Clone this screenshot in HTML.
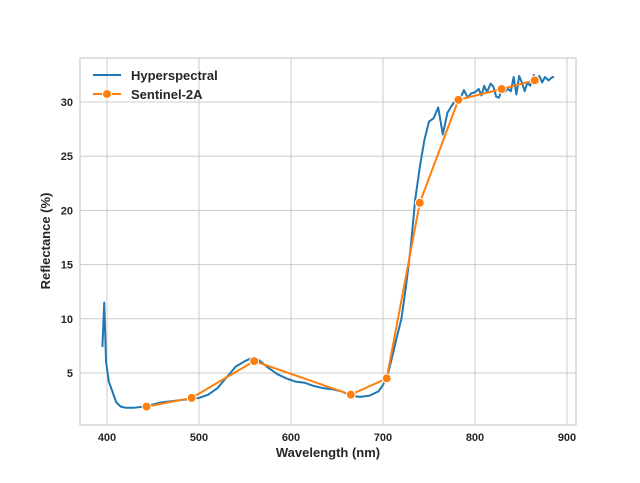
<!DOCTYPE html>
<html><head><meta charset="utf-8"><style>
body{margin:0;background:#fff;}
svg text{font-family:"Liberation Sans","DejaVu Sans",sans-serif;font-weight:bold;fill:#262626;}
</style></head><body>
<svg id="chart" width="640" height="478" viewBox="0 0 640 478"></svg>
<script>
const hyperWl=[395,397,399,402,405,410,415,420,430,440,450,460,470,480,490,500,510,520,530,540,550,558,565,575,585,595,605,615,625,635,645,655,665,675,685,695,700,705,710,715,720,725,730,735,740,745,750,755,760,765,770,775,780,785,788,792,796,800,804,807,810,813,817,820,823,826,829,832,836,839,842,845,848,851,854,857,860,864,867,870,873,876,880,884,886];
const hyperVal=[7.4,11.5,6,4.2,3.5,2.3,1.9,1.8,1.8,1.9,2.1,2.3,2.4,2.5,2.6,2.7,3.0,3.6,4.6,5.6,6.1,6.4,6.2,5.5,4.9,4.5,4.2,4.1,3.8,3.6,3.5,3.3,2.9,2.8,2.9,3.3,3.9,4.8,6.5,8.3,10,13,16.5,21,24,26.5,28.2,28.5,29.5,27,29,29.7,30.3,30.5,31.1,30.4,30.8,30.9,31.2,30.6,31.5,30.9,31.7,31.4,30.5,30.4,31.1,30.9,31.2,31.0,32.3,30.7,32.4,31.8,31.0,31.8,31.5,32.5,31.7,32.4,31.8,32.3,32.0,32.3,32.3];
const s2Wl=[443,492,560,665,704,740,782,829,865];
const s2Val=[1.9,2.7,6.1,3.0,4.5,20.7,30.2,31.2,32.0];
const xTicks=[400,500,600,700,800,900];
const yTicks=[5,10,15,20,25,30];
const X0=80,X1=576,Y0=58,Y1=425;
const xs=v=>107+(v-400)*0.92;
const ys=v=>373-(v-5)*10.84;
const svg=document.getElementById('chart');
const NS='http://www.w3.org/2000/svg';
function mk(t,a,p){const e=document.createElementNS(NS,t);for(const k in a)e.setAttribute(k,a[k]);(p||svg).appendChild(e);return e;}
xTicks.forEach(t=>{
 const l=mk('line',{x1:xs(t),x2:xs(t),y1:Y0,y2:Y1,stroke:'#cccccc','stroke-width':1});
 
 
 const tx=mk('text',{x:xs(t),y:Y1+16,'text-anchor':'middle','font-size':11});tx.textContent=t;
 
 
});
yTicks.forEach(t=>{
 const l=mk('line',{x1:X0,x2:X1,y1:ys(t),y2:ys(t),stroke:'#cccccc','stroke-width':1});
 
 
 const tx=mk('text',{x:X0-7,y:ys(t)+4,'text-anchor':'end','font-size':11});tx.textContent=t;
 
 
});
const fr=mk('rect',{x:X0,y:Y0,width:X1-X0,height:Y1-Y0,fill:'none',stroke:'#cccccc','stroke-width':1.2});


const hp=mk('polyline',{points:hyperWl.map((w,i)=>xs(w)+','+ys(hyperVal[i])).join(' '),fill:'none',stroke:'#1f77b4','stroke-width':2,'stroke-linejoin':'round'});


const sp=mk('polyline',{points:s2Wl.map((w,i)=>xs(w)+','+ys(s2Val[i])).join(' '),fill:'none',stroke:'#ff7f0e','stroke-width':2});


s2Wl.forEach((w,i)=>{
 const c=mk('circle',{cx:xs(w),cy:ys(s2Val[i]),r:4.5,fill:'#ff7f0e',stroke:'#fff','stroke-width':1});
 
 
});
const xl=mk('text',{x:328,y:457,'text-anchor':'middle','font-size':13});xl.textContent='Wavelength (nm)';


const yl=mk('text',{x:50,y:241,'text-anchor':'middle','font-size':13,transform:'rotate(-90 50 241)'});yl.textContent='Reflectance (%)';


const lg=mk('g',{});


mk('line',{x1:93,x2:121,y1:75,y2:75,stroke:'#1f77b4','stroke-width':2},lg);
const t1=mk('text',{x:131,y:80,'font-size':13},lg);t1.textContent='Hyperspectral';


mk('line',{x1:93,x2:121,y1:94,y2:94,stroke:'#ff7f0e','stroke-width':2},lg);
mk('circle',{cx:107,cy:94,r:4.5,fill:'#ff7f0e',stroke:'#fff','stroke-width':1},lg);
const t2=mk('text',{x:131,y:99,'font-size':13},lg);t2.textContent='Sentinel-2A';


</script>
</body></html>
